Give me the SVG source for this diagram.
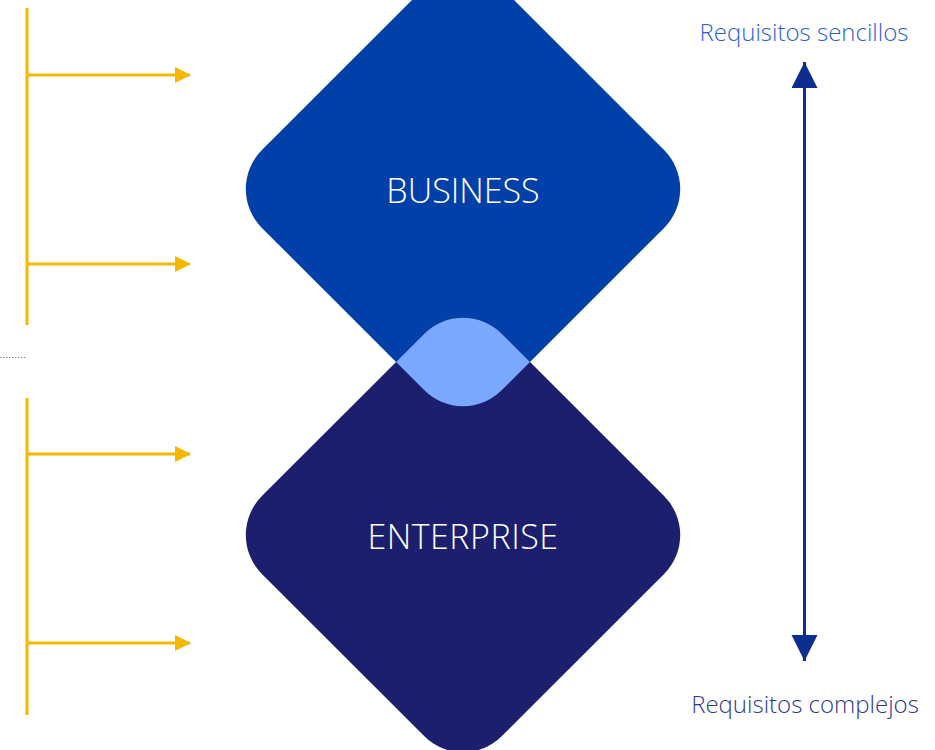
<svg xmlns="http://www.w3.org/2000/svg" width="935" height="750" viewBox="0 0 935 750">
<style>
.y{stroke:#F5B800;stroke-width:3;fill:none}
.lbl{font-family:"Open Sans","Noto Sans",sans-serif;font-weight:300;fill:#ffffff;text-anchor:middle}
.req{font-family:"Open Sans","Noto Sans",sans-serif;font-weight:300;font-size:24px;text-anchor:middle}
</style>
<defs>
<marker id="ya" markerWidth="16" markerHeight="16" viewBox="0 0 16 16" refX="15" refY="8" orient="auto" markerUnits="userSpaceOnUse">
<path d="M0,0 L16,8 L0,16 Z" fill="#F5B800"/>
</marker>
<marker id="ba" markerWidth="26" markerHeight="27" viewBox="0 0 26 27" refX="26" refY="13" orient="auto" markerUnits="userSpaceOnUse">
<path d="M0,0 L26,13 L0,26 Z" fill="#0D2E8F"/>
</marker>
<rect id="dia" x="-169.7" y="-169.7" width="339.4" height="339.4" rx="55" ry="55"/>
<clipPath id="topclip"><use href="#dia" transform="translate(463,189) rotate(45)"/></clipPath>
</defs>
<g id="business">
<use href="#dia" transform="translate(463,189) rotate(45)" fill="#0040A8"/>
<text class="lbl" x="463" y="203" font-size="34">BUSINESS</text>
</g>
<g id="enterprise">
<use href="#dia" transform="translate(463,535) rotate(45)" fill="#1B1F6E"/>
<text class="lbl" x="463" y="549" font-size="34" letter-spacing="0.5">ENTERPRISE</text>
</g>
<g id="overlap" clip-path="url(#topclip)">
<use href="#dia" transform="translate(463,535) rotate(45)" fill="#7AA8FF"/>
</g>
<g id="connectors">
<line class="y" x1="27" y1="8" x2="27" y2="325"/>
<line class="y" x1="27" y1="398" x2="27" y2="715"/>
<line class="y" x1="27" y1="75" x2="190" y2="75" marker-end="url(#ya)"/>
<line class="y" x1="27" y1="264" x2="190" y2="264" marker-end="url(#ya)"/>
<line class="y" x1="27" y1="454" x2="190" y2="454" marker-end="url(#ya)"/>
<line class="y" x1="27" y1="643" x2="190" y2="643" marker-end="url(#ya)"/>
<line x1="0" y1="357.5" x2="27" y2="357.5" stroke="#888" stroke-width="1" stroke-dasharray="1.5,1.5"/>
<line x1="804.5" y1="360" x2="804.5" y2="62" stroke="#0D2E8F" stroke-width="3" marker-end="url(#ba)"/>
<line x1="804.5" y1="360" x2="804.5" y2="661" stroke="#0D2E8F" stroke-width="3" marker-end="url(#ba)"/>
</g>
<g id="labels">
<text class="req" x="804" y="41" fill="#2D5FCC">Requisitos sencillos</text>
<text class="req" x="805" y="713" fill="#2E3A8C">Requisitos complejos</text>
</g>
</svg>
